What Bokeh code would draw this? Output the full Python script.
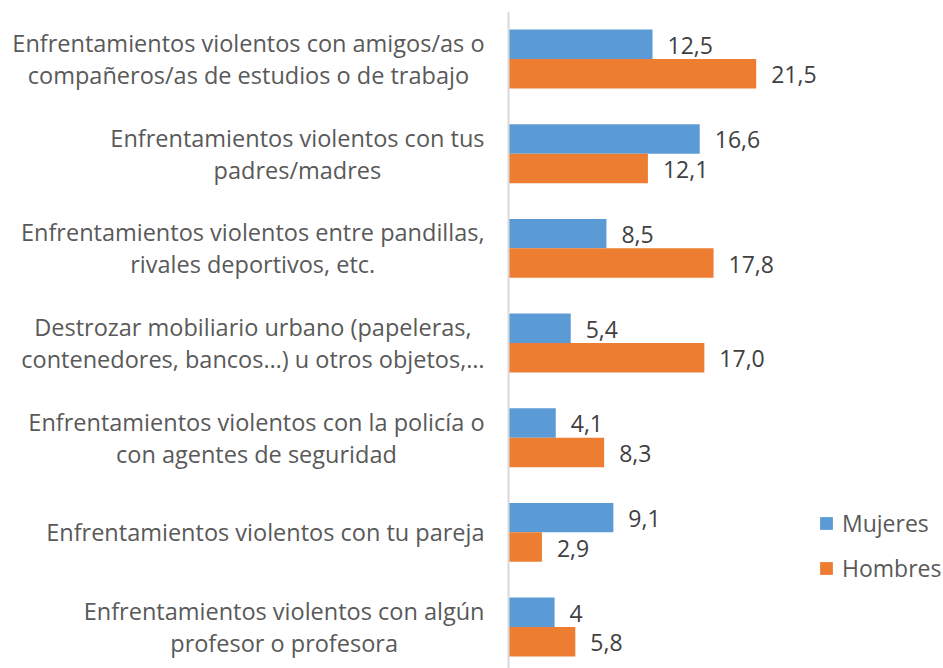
from bokeh.plotting import figure
from bokeh.models import Range1d, Span, ColumnDataSource, Legend, LegendItem
from bokeh.core.properties import value
from bokeh.embed import file_html
from bokeh.resources import INLINE

categories = [
    "Enfrentamientos violentos con amigos/as o\ncompañeros/as de estudios o de trabajo",
    "Enfrentamientos violentos con tus\npadres/madres",
    "Enfrentamientos violentos entre pandillas,\nrivales deportivos, etc.",
    "Destrozar mobiliario urbano (papeleras,\ncontenedores, bancos…) u otros objetos,…",
    "Enfrentamientos violentos con la policía o\ncon agentes de seguridad",
    "Enfrentamientos violentos con tu pareja",
    "Enfrentamientos violentos con algún\nprofesor o profesora",
]
mujeres = [12.5, 16.6, 8.5, 5.4, 4.1, 9.1, 4.0]
hombres = [21.5, 12.1, 17.8, 17.0, 8.3, 2.9, 5.8]
mujeres_labels = ["12,5", "16,6", "8,5", "5,4", "4,1", "9,1", "4"]
hombres_labels = ["21,5", "12,1", "17,8", "17,0", "8,3", "2,9", "5,8"]
series_names = ["Mujeres", "Hombres"]

BLUE = "#5B9BD5"
ORANGE = "#ED7D31"
FONT = "Open Sans"
FS = "23.5px"
FS_VAL = "23px"

pos = list(range(len(categories)))
bar_h = 0.311

p = figure(width=943, height=668, output_backend="svg", toolbar_location=None,
           x_range=Range1d(-44.10, 37.76), y_range=Range1d(6.438, -0.502),
           x_axis_location=None, y_axis_location=None,
           min_border_left=0, min_border_right=0, min_border_top=11, min_border_bottom=0)
p.outline_line_color = None
p.grid.visible = False
p.background_fill_color = "white"

src_m = ColumnDataSource(dict(y=[c - bar_h / 2 for c in pos], v=mujeres, lab=mujeres_labels))
src_h = ColumnDataSource(dict(y=[c + bar_h / 2 for c in pos], v=hombres, lab=hombres_labels))
src_c = ColumnDataSource(dict(y=pos, x=[0] * len(pos), t=categories))

r_m = p.hbar(y="y", left=0, right="v", height=bar_h, source=src_m, fill_color=BLUE, line_color=None)
r_h = p.hbar(y="y", left=0, right="v", height=bar_h, source=src_h, fill_color=ORANGE, line_color=None)

for src in (src_m, src_h):
    p.text(x="v", y="y", text="lab", source=src, x_offset=15, y_offset=1, text_align="left",
           text_baseline="middle", text_font=value(FONT), text_font_size=FS_VAL, text_color="#404040")

p.text(x="x", y="y", text="t", source=src_c, x_offset=-24, anchor="center_right",
       text_align="center", text_baseline="middle", text_line_height=1.0,
       text_font=value(FONT), text_font_size=FS, text_color="#595959")

p.add_layout(Span(location=0, dimension="height", line_color="#D9D9D9", line_width=2))

legend = Legend(items=[LegendItem(label=series_names[0], renderers=[r_m]),
                       LegendItem(label=series_names[1], renderers=[r_h])],
                location=(818, 84), orientation="vertical",
                glyph_width=16, glyph_height=16, label_standoff=8, spacing=13,
                label_height=24, padding=0, margin=0,
                label_text_font=FONT, label_text_font_size=FS_VAL, label_text_color="#595959",
                border_line_color=None, background_fill_alpha=0)
p.add_layout(legend, "center")

open("out.html", "w").write(file_html(p, INLINE))
